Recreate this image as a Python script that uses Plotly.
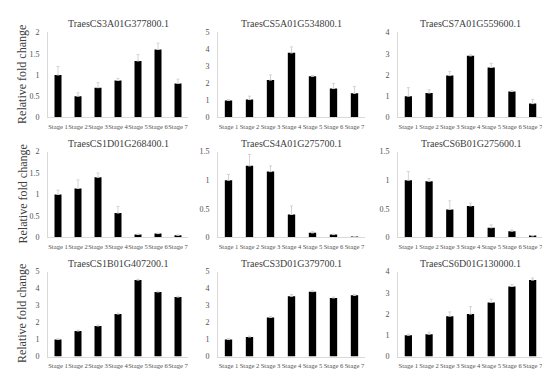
import plotly.graph_objects as go

stages = ["Stage 1", "Stage 2", "Stage 3", "Stage 4", "Stage 5", "Stage 6", "Stage 7"]

titles = [
    "TraesCS3A01G377800.1", "TraesCS5A01G534800.1", "TraesCS7A01G559600.1",
    "TraesCS1D01G268400.1", "TraesCS4A01G275700.1", "TraesCS6B01G275600.1",
    "TraesCS1B01G407200.1", "TraesCS3D01G379700.1", "TraesCS6D01G130000.1",
]

v_3A = [1.0, 0.5, 0.7, 0.87, 1.33, 1.6, 0.8]
e_3A = [0.2, 0.08, 0.12, 0.05, 0.15, 0.15, 0.1]
v_5A = [1.0, 1.05, 2.2, 3.8, 2.42, 1.7, 1.42]
e_5A = [0.05, 0.2, 0.3, 0.35, 0.05, 0.3, 0.4]
v_7A = [1.0, 1.15, 1.97, 2.9, 2.35, 1.22, 0.65]
e_7A = [0.4, 0.15, 0.2, 0.05, 0.2, 0.05, 0.2]
v_1D = [1.0, 1.14, 1.4, 0.57, 0.07, 0.09, 0.05]
e_1D = [0.1, 0.2, 0.1, 0.15, 0.01, 0.01, 0.01]
v_4A = [1.0, 1.25, 1.15, 0.4, 0.08, 0.05, 0.01]
e_4A = [0.1, 0.2, 0.1, 0.15, 0.02, 0.01, 0.0]
v_6B = [1.0, 0.98, 0.49, 0.55, 0.17, 0.11, 0.03]
e_6B = [0.15, 0.05, 0.15, 0.05, 0.05, 0.02, 0.0]
v_1B = [1.0, 1.5, 1.8, 2.5, 4.5, 3.8, 3.5]
e_1B = [0.05, 0.05, 0.05, 0.05, 0.05, 0.05, 0.05]
v_3D = [1.0, 1.15, 2.3, 3.55, 3.82, 3.45, 3.6]
e_3D = [0.05, 0.05, 0.05, 0.1, 0.05, 0.05, 0.05]
v_6D = [1.0, 1.05, 1.9, 2.0, 2.55, 3.3, 3.6]
e_6D = [0.05, 0.1, 0.2, 0.35, 0.15, 0.1, 0.1]

values = [v_3A, v_5A, v_7A, v_1D, v_4A, v_6B, v_1B, v_3D, v_6D]
errors = [e_3A, e_5A, e_7A, e_1D, e_4A, e_6B, e_1B, e_3D, e_6D]

y_max = [2, 5, 4, 2, 1.5, 1.5, 5, 5, 4]
y_dtick = [0.5, 1, 1, 0.5, 0.5, 0.5, 1, 1, 1]

W, H = 550, 374
col_px = [(40, 180), (210, 357), (390, 535)]
row_px = [(21, 108), (143, 231), (266, 353)]
title_y_px = [12, 135, 258]

FONT = "Liberation Serif"
fig = go.Figure()
layout = dict(
    width=W, height=H,
    margin=dict(l=0, r=0, t=0, b=0),
    paper_bgcolor="white", plot_bgcolor="white",
    showlegend=False,
    font=dict(family=FONT, color="#595959"),
    bargap=0.65,
)
annotations = []
for i in range(9):
    r, c = divmod(i, 3)
    k = i + 1
    xa = "x" if k == 1 else f"x{k}"
    ya = "y" if k == 1 else f"y{k}"
    fig.add_trace(go.Bar(
        x=stages, y=values[i], xaxis=xa, yaxis=ya,
        marker=dict(color="black", line=dict(width=0)),
        error_y=dict(type="data", symmetric=False, array=errors[i],
                     arrayminus=[0] * 7, color="#d4d4d4", thickness=1, width=1.5),
    ))
    x0, x1 = col_px[c]
    yt, yb = row_px[r]
    layout["xaxis" if k == 1 else f"xaxis{k}"] = dict(
        domain=[x0 / W, x1 / W], anchor=ya,
        showline=True, linecolor="#d9d9d9", linewidth=1,
        ticks="outside", ticklen=3, tickcolor="rgba(0,0,0,0)",
        tickangle=0, tickfont=dict(family=FONT, size=6.6, color="#505050"),
        showgrid=False, zeroline=False, fixedrange=True,
    )
    layout["yaxis" if k == 1 else f"yaxis{k}"] = dict(
        domain=[1 - yb / H, 1 - yt / H], anchor=xa,
        range=[0, y_max[i]], dtick=y_dtick[i], tick0=0,
        showline=True, linecolor="#d9d9d9", linewidth=1,
        ticks="outside", ticklen=6, tickcolor="rgba(0,0,0,0)",
        tickfont=dict(family=FONT, size=8, color="#505050"),
        showgrid=False, zeroline=False, fixedrange=True,
    )
    annotations.append(dict(
        text=titles[i], x=(x0 + x1) / 2 / W, y=1 - title_y_px[r] / H,
        xref="paper", yref="paper", showarrow=False,
        xanchor="center", yanchor="middle",
        font=dict(family=FONT, size=10, color="#404040"),
    ))
    if c == 0:
        annotations.append(dict(
            text="Relative fold change", x=14 / W, y=1 - (yt + yb) / 2 / H,
            xref="paper", yref="paper", showarrow=False, textangle=-90,
            xanchor="center", yanchor="middle",
            font=dict(family=FONT, size=12, color="#404040"),
        ))

layout["annotations"] = annotations
fig.update_layout(**layout)
fig.write_html("out.html")
